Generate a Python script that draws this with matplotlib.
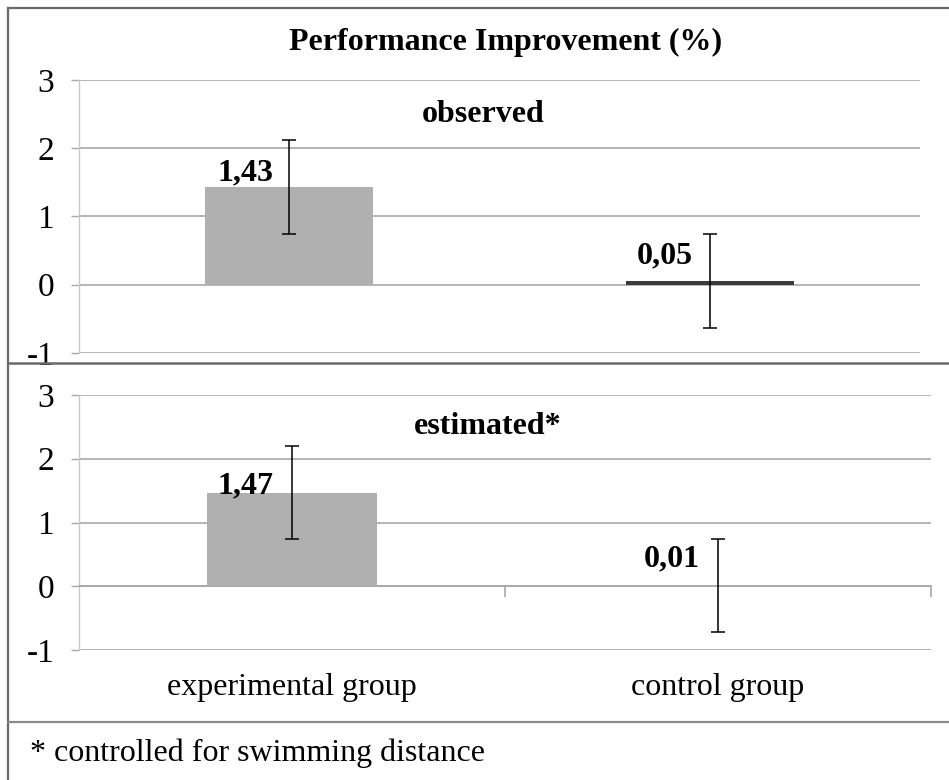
import matplotlib.pyplot as plt
from matplotlib.lines import Line2D

plt.rcParams['font.family'] = ['Liberation Serif', 'DejaVu Serif']
plt.rcParams['axes.unicode_minus'] = False

# --- data ---
groups = ['experimental group', 'control group']
observed = [1.43, 0.05]
observed_err = [0.69, 0.69]
estimated = [1.47, 0.01]
estimated_err = [0.73, 0.73]
labels_obs = ['1,43', '0,05']
labels_est = ['1,47', '0,01']
yticks = [-1, 0, 1, 2, 3]

# label offsets in pixels (x, y) relative to bar top
offs_obs = [(-44, 7), (-45, 18)]
offs_est = [(-47, -1), (-46, 19)]

grid_c = '#a8a8a8'
bar_c = '#b0b0b0'
fs = 23

fig = plt.figure(figsize=(9.49, 7.8), dpi=100)
x = range(len(groups))


def panel(ax, vals, errs, labels, offs, name, colors):
    ax.bar(x, vals, width=0.4, color=colors, zorder=3)
    ax.errorbar(x, vals, yerr=errs, fmt='none', ecolor='black',
                elinewidth=1.1, capsize=5, capthick=1.1, zorder=4)
    for i, (v, lab) in enumerate(zip(vals, labels)):
        ax.annotate(lab, (i, v), xytext=offs[i], textcoords='offset pixels',
                    ha='center', va='baseline', fontsize=fs, fontweight='bold')
    ax.set_xlim(-0.5, 1.5)
    ax.set_ylim(-1, 3)
    ax.set_yticks(yticks)
    ax.yaxis.grid(True, color=grid_c, linewidth=1.2)
    ax.set_axisbelow(True)
    ax.tick_params(axis='y', length=6, width=1.0, color=grid_c, pad=12,
                   labelsize=24)
    for s in ['top', 'right', 'bottom']:
        ax.spines[s].set_visible(False)
    ax.spines['left'].set_color('#c8c8c8')
    ax.spines['left'].set_linewidth(1.0)
    ax.set_xticks([])
    ax.text(0.48, 0.875, name, transform=ax.transAxes, ha='center',
            va='center', fontsize=fs, fontweight='bold')


ax1 = fig.add_axes([79 / 949, 427 / 780, 841 / 949, 273 / 780])
panel(ax1, observed, observed_err, labels_obs, offs_obs, 'observed',
      [bar_c, '#3a3a3a'])

ax2 = fig.add_axes([79 / 949, 130 / 780, 852 / 949, 255 / 780])
panel(ax2, estimated, estimated_err, labels_est, offs_est, 'estimated*',
      [bar_c, bar_c])
ax2.spines['bottom'].set_visible(True)
ax2.spines['bottom'].set_position(('data', 0))
ax2.spines['bottom'].set_color(grid_c)
ax2.spines['bottom'].set_linewidth(1.2)
ax2.set_xticks([0.5, 1.5])
ax2.set_xticklabels([])
ax2.tick_params(axis='x', length=8, width=1.2, color=grid_c, direction='out')
for i, g in enumerate(groups):
    ax2.text(i, -0.149, g, transform=ax2.get_xaxis_transform(),
             ha='center', va='center', fontsize=fs)

fig.text(506 / 949, 1 - 42 / 780, 'Performance Improvement (%)',
         ha='center', va='center', fontsize=fs, fontweight='bold')
fig.text(30 / 949, 1 - 753 / 780, '* controlled for swimming distance',
         ha='left', va='center', fontsize=fs)

# frame lines around the panels
frame_c = '#6a6a6a'
fig.add_artist(Line2D([8 / 949, 8 / 949], [0, 1 - 8 / 780],
                      transform=fig.transFigure, color=frame_c, lw=1.6))
fig.add_artist(Line2D([8 / 949, 1], [1 - 8 / 780, 1 - 8 / 780],
                      transform=fig.transFigure, color=frame_c, lw=1.6))
fig.add_artist(Line2D([8 / 949, 1], [1 - 363 / 780, 1 - 363 / 780],
                      transform=fig.transFigure, color=frame_c, lw=1.8))
fig.add_artist(Line2D([8 / 949, 1], [1 - 722 / 780, 1 - 722 / 780],
                      transform=fig.transFigure, color='#8a8a8a', lw=1.6))

fig.savefig('out.png', dpi=100)
